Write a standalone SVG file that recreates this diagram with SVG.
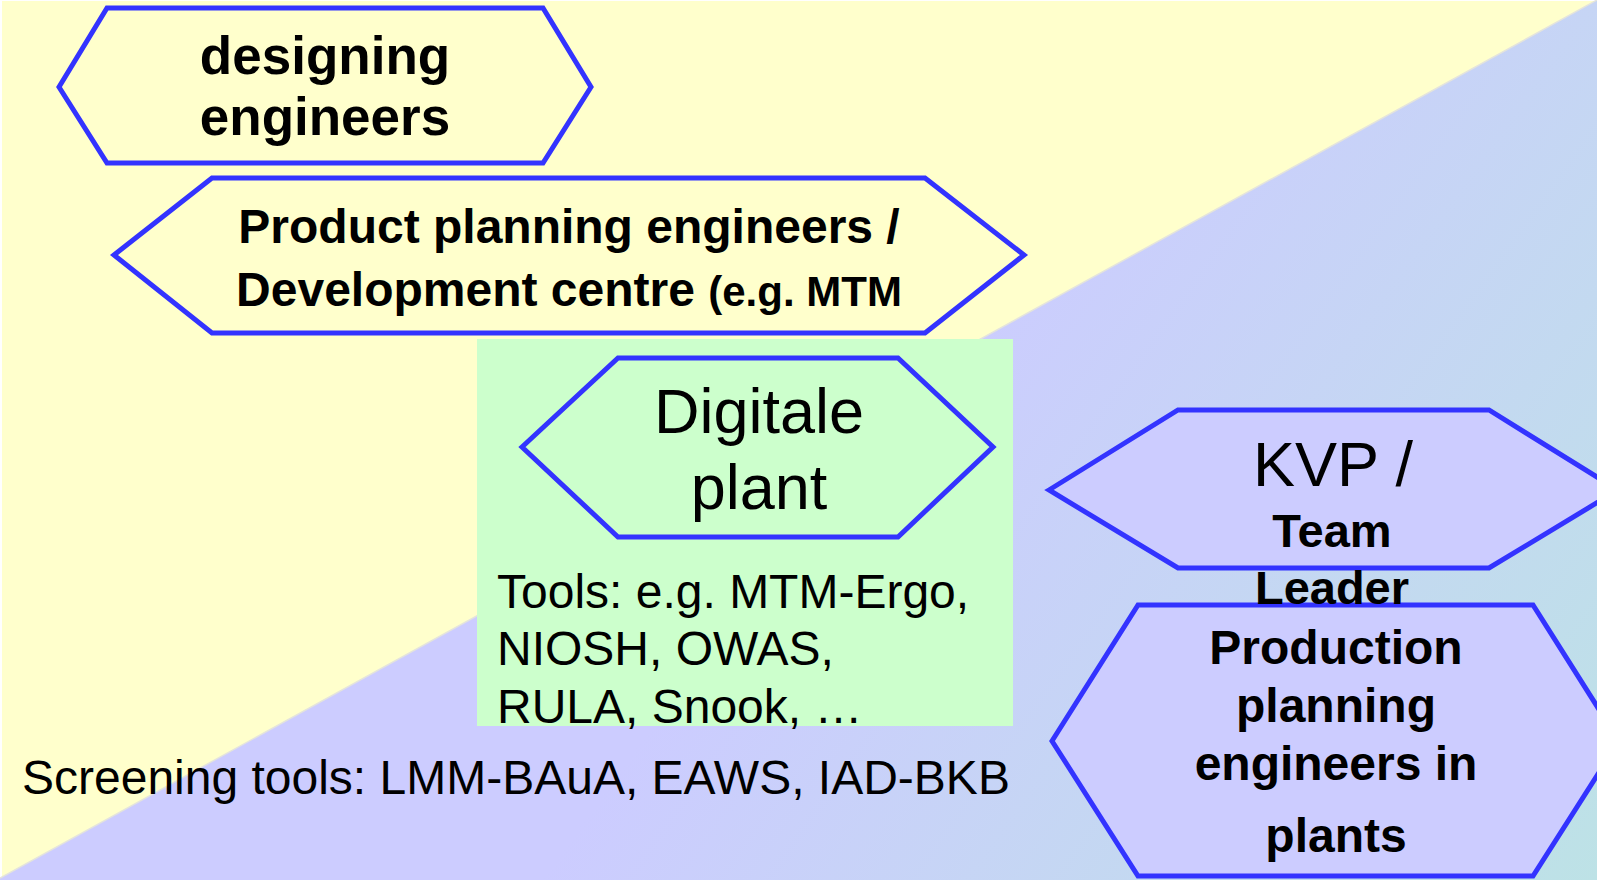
<svg xmlns="http://www.w3.org/2000/svg" width="1597" height="880" viewBox="0 0 1597 880">
  <style>
    .hex { stroke: #3333FF; stroke-width: 5; stroke-linejoin: miter; }
    .yel { fill: #FFFFCC; }
    .lav { fill: #CCCCFF; }
    .grn { fill: #CCFFCC; }
    text { font-family: "Liberation Sans", Arial, sans-serif; fill: #000000; }
    .b { font-weight: bold; }
    .mid { text-anchor: middle; }
  </style>
  <defs>
    <linearGradient id="bgGrad" gradientUnits="userSpaceOnUse" x1="900" y1="380" x2="1597" y2="880">
      <stop offset="0" stop-color="#CCCCFF"/>
      <stop offset="1" stop-color="#BDE2E6"/>
    </linearGradient>
  </defs>

  <!-- background -->
  <rect x="0" y="0" width="1597" height="880" fill="#FFFFFF"/>
  <rect x="2" y="1" width="1595" height="879" fill="#FFFFCC"/>
  <polygon points="0,878 1597,0 1597,880 0,880" fill="url(#bgGrad)"/>
  <line x1="0" y1="878" x2="1597" y2="0" stroke="#E4E4DC" stroke-width="1.5"/>

  <!-- green panel -->
  <rect id="panel" x="477" y="339" width="536" height="387" fill="#CCFFCC"/>

  <g id="designing">
    <polygon class="hex yel" points="59,87 107,8 543,8 591,87 543,163 107,163"/>
    <text class="b mid" x="325" y="74" font-size="53">designing</text>
    <text class="b mid" x="325" y="135" font-size="53">engineers</text>
  </g>

  <g id="product-planning">
    <polygon class="hex yel" points="114,255 212,178 925,178 1024,255 925,333 212,333"/>
    <text class="b mid" x="569" y="243" font-size="48">Product planning engineers /</text>
    <text class="b mid" x="569" y="306" font-size="48">Development centre <tspan font-size="42">(e.g. MTM</tspan></text>
  </g>

  <g id="digitale-plant">
    <polygon class="hex grn" points="522,447 618,358 898,358 993,447 898,537 618,537"/>
    <text class="mid" x="759" y="433" font-size="63">Digitale</text>
    <text class="mid" x="759" y="509" font-size="63">plant</text>
  </g>

  <g id="tools">
    <text x="497" y="608" font-size="48">Tools: e.g. MTM-Ergo,</text>
    <text x="497" y="665" font-size="48">NIOSH, OWAS,</text>
    <text x="497" y="723" font-size="48">RULA, Snook, …</text>
  </g>

  <g id="screening">
    <text x="22" y="794" font-size="48">Screening tools: LMM-BAuA, EAWS, IAD-BKB</text>
  </g>

  <g id="production-planning">
    <polygon class="hex lav" points="1052,741 1138,605 1533,605 1619,741 1533,876 1138,876"/>
    <text class="b mid" x="1336" y="664" font-size="48">Production</text>
    <text class="b mid" x="1336" y="722" font-size="48">planning</text>
    <text class="b mid" x="1336" y="780" font-size="48">engineers in</text>
    <text class="b mid" x="1336" y="852" font-size="48">plants</text>
  </g>

  <g id="kvp">
    <polygon class="hex lav" points="1049,490 1178,410 1489,410 1618,490 1489,568 1178,568"/>
    <text class="mid" x="1333" y="486" font-size="63">KVP /</text>
    <text class="b mid" x="1332" y="547" font-size="47">Team</text>
    <text class="b mid" x="1332" y="604" font-size="47">Leader</text>
  </g>

  <g id="connectors"></g>
</svg>
